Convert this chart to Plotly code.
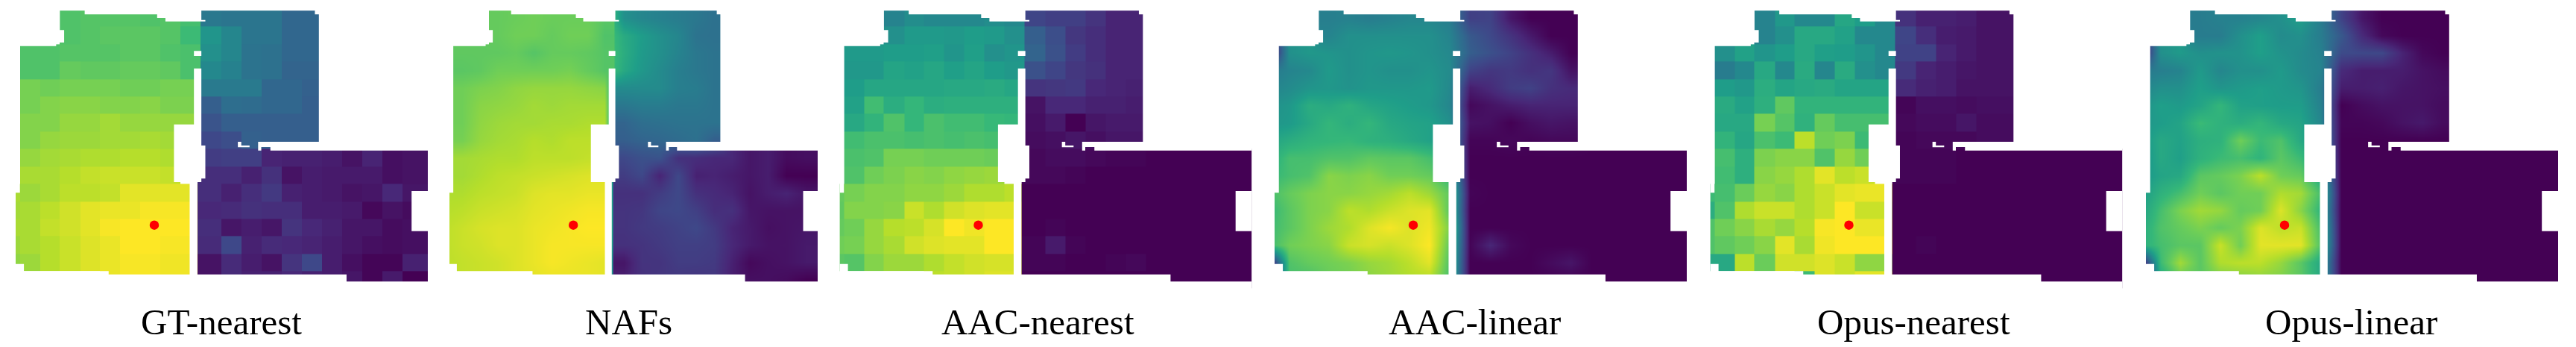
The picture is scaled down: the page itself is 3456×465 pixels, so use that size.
import plotly.graph_objects as go

N = None
PANEL_TITLES = ["GT-nearest", "NAFs", "AAC-nearest", "AAC-linear", "Opus-nearest", "Opus-linear"]

# Grid cell edges of the floor map (floor units)
X_EDGES = [0, 70, 140, 210, 281, 351, 421, 492, 562, 633, 704, 775, 846, 916, 988, 1058, 1129, 1200, 1270, 1341, 1411, 1500]
Y_EDGES = [37, 107, 177, 248, 318, 388, 458, 529, 599, 669, 740, 810, 880, 950, 1020, 1090, 1160]
SOURCE = (541, 905)

GT_L = [
 [N,N,N,72,73,73,73,72,73,70],[N,N,N,72,73,74,74,74,73,68],[N,72,72,73,73,73,74,74,72,71],[N,72,72,76,75,75,76,76,75,71],
 [N,79,78,79,79,79,78,78,79,79],[N,79,81,82,82,81,81,82,80,80],[N,81,81,84,84,86,84,84,84,84],[N,81,84,85,85,86,86,87,86,N],
 [N,84,86,87,88,88,89,89,88,N],[N,87,87,89,91,92,92,92,91,N],[87,85,87,90,90,91,96,96,96,96],[86,87,90,93,96,97,97,99,99,99],
 [87,87,91,93,96,99,100,100,100,100],[85,87,89,92,95,97,100,100,99,99],[83,85,89,92,95,97,99,99,98,98],[N,N,N,N,N,97,99,99,98,98]]
GT_R = [
 [40,39,39,39,33,33,N,N,N,N,N],[52,46,39,39,33,33,N,N,N,N,N],[50,46,38,37,33,33,N,N,N,N,N],[47,44,38,37,32,32,N,N,N,N,N],
 [41,41,41,33,33,31,N,N,N,N,N],[30,36,35,33,33,30,N,N,N,N,N],[26,30,30,30,30,30,N,N,N,N,N],[22,24,31,30,30,30,N,N,N,N,N],
 [18,19,19,10,9,9,8,5,10,4,5],[13,13,9,14,5,8,7,7,7,4,5],[13,9,13,17,9,8,7,5,6,11,6],[11,12,14,13,13,8,8,7,2,5,3],
 [13,6,8,6,15,11,9,6,6,3,4],[12,22,9,12,11,10,8,6,4,3,4],[5,12,8,5,15,22,8,4,1,1,9],[5,12,9,9,11,9,8,6,1,7,0]]

NAF_L = [
 [N,N,N,76,77,78,77,77,77,74],[N,N,N,76,78,78,76,78,78,72],[N,75,75,75,76,73,76,76,75,73],[N,74,75,78,78,78,78,79,76,73],
 [N,78,80,81,83,84,84,84,83,82],[N,78,82,83,84,86,85,86,86,86],[N,78,83,85,86,86,87,87,88,88],[N,79,84,86,87,89,88,90,90,90],
 [N,86,87,88,88,90,90,90,91,91],[N,86,88,90,91,92,93,94,95,95],[88,88,90,91,92,95,96,96,97,97],[89,90,92,93,94,96,97,98,99,99],
 [90,92,94,95,95,97,98,99,100,100],[90,92,93,95,95,97,99,99,99,99],[90,91,92,93,95,97,99,98,97,96],[90,91,92,93,95,96,97,97,97,96]]
NAF_R = [
 [50,46,44,42,40,37,N,N,N,N,N],[61,55,50,46,38,37,N,N,N,N,N],[62,54,50,45,40,38,N,N,N,N,N],[60,53,48,43,40,38,N,N,N,N,N],
 [48,48,48,43,42,38,N,N,N,N,N],[40,42,42,40,40,38,N,N,N,N,N],[32,36,37,38,38,38,N,N,N,N,N],[30,32,33,35,37,30,N,N,N,N,N],
 [22,25,26,14,13,11,11,6,8,3,4],[18,22,10,22,9,10,8,6,8,0,0],[14,14,18,22,14,12,10,5,8,10,6],[15,16,21,22,19,13,14,6,5,5,5],
 [15,17,18,20,22,17,10,7,4,5,6],[14,15,17,19,19,18,11,7,5,5,7],[6,15,15,18,18,17,9,2,4,5,7],[9,14,16,16,15,16,8,4,4,3,0]]

AACN_L = [
 [N,N,N,45,49,47,47,47,49,47],[N,N,N,50,54,54,53,55,54,50],[N,54,54,55,55,56,52,56,50,52],[N,53,53,58,57,59,56,58,55,53],
 [N,55,59,59,59,59,60,60,61,59],[N,57,69,62,66,62,63,63,63,63],[N,60,65,72,66,71,69,69,67,66],[N,69,71,71,70,71,70,71,70,N],
 [N,71,72,79,79,78,78,78,77,N],[N,72,78,80,82,81,83,84,85,N],[76,79,81,81,83,83,85,88,88,90],[75,81,81,82,92,88,93,95,96,96],
 [76,78,84,89,90,94,100,98,100,100],[78,79,84,87,93,95,96,96,100,100],[74,73,81,85,85,88,91,93,94,94],[N,N,N,N,N,90,91,93,95,95]]
AACN_R = [
 [21,19,19,15,10,10,N,N,N,N,N],[30,24,16,13,10,10,N,N,N,N,N],[32,25,18,13,10,10,N,N,N,N,N],[25,21,16,14,10,10,N,N,N,N,N],
 [15,16,17,11,10,9,N,N,N,N,N],[5,11,11,9,9,8,N,N,N,N,N],[4,7,0,6,7,7,N,N,N,N,N],[3,4,6,4,6,6,N,N,N,N,N],
 [2,3,3,2,1,1,0,0,0,0,0],[2,2,1,0,0,0,0,0,0,0,0],[0,0,0,0,0,0,0,0,0,0,0],[0,0,0,0,0,0,0,0,0,0,0],
 [0,1,0,0,0,0,0,0,0,0,0],[1,7,1,0,0,0,0,0,0,0,0],[1,1,0,0,1,2,0,0,0,0,0],[0,0,0,0,0,0,0,0,0,0,0]]

AACL_L = [
 [N,N,N,43,44,42,44,46,46,42],[N,N,N,45,50,50,50,50,50,45],[0,50,53,52,50,52,53,52,50,47],[40,45,47,54,50,52,50,50,52,48],
 [45,48,52,53,51,53,53,53,54,47],[50,53,62,60,64,59,57,55,53,46],[52,54,60,66,62,66,60,58,57,50],[58,62,65,66,67,64,63,60,57,50],
 [62,70,70,72,72,75,74,74,70,60],[66,70,72,82,80,82,78,78,76,65],[70,76,80,82,82,84,86,90,85,75],[66,74,80,82,90,88,92,95,96,74],
 [68,74,80,85,88,95,99,95,98,80],[68,78,80,82,92,94,92,95,100,75],[0,72,76,78,80,84,86,90,96,72],[0,70,70,76,78,82,85,88,88,70]]
AACL_R = [
 [19,20,6,0,0,0,N,N,N,N,N],[28,22,15,7,0,0,N,N,N,N,N],[30,25,20,14,8,0,N,N,N,N,N],[20,16,17,14,16,5,N,N,N,N,N],
 [8,12,18,20,14,12,N,N,N,N,N],[2,5,8,10,10,10,N,N,N,N,N],[5,4,0,4,6,5,N,N,N,N,N],[1,1,2,1,2,2,N,N,N,N,N],
 [0,0,0,0,0,0,0,0,0,0,0],[0,0,0,0,0,0,0,0,0,0,0],[1,0,0,0,0,0,0,0,0,0,0],[0,0,0,0,0,0,0,0,0,0,0],
 [0,0,0,0,0,0,0,0,0,0,0],[1,11,2,0,0,0,0,0,0,0,0],[0,0,0,0,3,6,0,0,0,0,0],[0,0,0,0,0,0,0,0,0,0,0]]

OPUSN_L = [
 [N,N,N,45,53,47,47,59,55,47],[N,N,N,45,50,60,60,57,47,47],[N,50,57,52,55,60,56,55,52,47],[N,42,47,60,47,61,46,61,50,47],
 [N,55,53,62,58,60,61,58,58,58],[N,61,57,63,75,65,65,65,65,65],[N,60,60,79,73,64,76,70,70,70],[N,65,59,71,68,90,78,80,68,N],
 [N,70,63,80,82,82,72,84,78,N],[N,69,63,82,84,88,96,90,92,N],[68,70,77,84,82,88,92,96,97,97],[62,72,88,92,92,88,92,100,92,92],
 [72,78,82,87,84,89,99,100,97,97],[72,75,78,82,96,87,98,100,100,100],[60,60,90,77,93,93,95,92,83,83],[N,N,N,N,N,68,95,92,96,96]]
OPUSN_R = [
 [14,9,9,8,5,5,N,N,N,N,N],[21,13,8,7,5,5,N,N,N,N,N],[20,20,10,7,5,5,N,N,N,N,N],[17,10,8,6,5,5,N,N,N,N,N],
 [12,9,8,5,5,5,N,N,N,N,N],[1,4,4,3,4,4,N,N,N,N,N],[2,3,3,6,3,3,N,N,N,N,N],[1,2,2,2,3,3,N,N,N,N,N],
 [1,1,1,0,0,0,0,0,0,0,0],[1,1,1,0,0,0,0,0,0,0,0],[0,0,0,0,0,0,0,0,0,0,0],[0,0,0,0,0,0,0,0,0,0,0],
 [0,0,0,0,0,0,0,0,0,0,0],[0,1,0,0,0,0,0,0,0,0,0],[0,0,0,0,0,0,0,0,0,0,0],[0,0,0,0,0,0,0,0,0,0,0]]

OPUSL_L = [
 [N,N,N,42,44,44,46,50,56,42],[N,N,N,42,42,50,56,48,50,42],[0,50,54,50,51,51,56,51,48,44],[40,43,45,54,46,50,50,54,48,45],
 [45,50,50,56,52,54,56,54,52,42],[50,56,54,58,66,57,56,55,55,44],[52,55,58,68,64,62,66,60,58,46],[52,60,57,63,64,78,68,72,60,50],
 [50,60,56,64,68,70,65,74,68,55],[52,58,60,74,76,80,90,78,76,60],[54,64,70,78,74,78,78,88,86,70],[56,70,80,86,84,76,78,95,82,65],
 [60,72,76,80,76,80,95,90,92,70],[62,70,74,74,92,78,96,96,96,72],[0,68,86,74,88,90,90,84,74,60],[0,60,74,74,78,80,82,80,74,60]]
OPUSL_R = [
 [20,6,0,0,0,0,N,N,N,N,N],[28,12,2,0,0,0,N,N,N,N,N],[23,22,22,10,2,0,N,N,N,N,N],[12,8,8,8,5,3,N,N,N,N,N],
 [8,8,9,6,5,4,N,N,N,N,N],[0,3,5,5,5,3,N,N,N,N,N],[1,1,2,5,7,3,N,N,N,N,N],[0,0,0,0,0,0,N,N,N,N,N],
 [0,0,0,0,0,0,0,0,0,0,0],[0,0,0,0,0,0,0,0,0,0,0],[0,0,0,0,0,0,0,0,0,0,0],[0,0,0,0,0,0,0,0,0,0,0],
 [0,0,0,0,0,0,0,0,0,0,0],[0,0,0,0,0,0,0,0,0,0,0],[0,0,0,0,0,0,0,0,0,0,0],[0,0,0,0,0,0,0,0,0,0,0]]

# Floor plan outline in floor units (what is outside it stays white)
FLOOR = [(210,43),(297,43),(297,58),(551,58),(551,72),(580,72),(580,86),(720,86),(720,80),(706,80),(706,43),
         (1104,43),(1104,58),(1118,58),(1118,570),(905,570),(905,605),(916,605),(916,591),(948,591),(948,605),
         (1500,605),(1500,768),(1443,768),(1443,929),(1500,929),(1500,1132),(1215,1132),(1215,1103),(692,1103),
         (692,732),(706,732),(706,718),(720,718),(720,585),(706,585),(706,275),(680,275),(680,500),(610,500),
         (610,732),(665,732),(665,1103),(381,1103),(381,1090),(84,1090),(84,1061),(55,1061),(55,775),(70,775),
         (70,185),(197,185),(197,171),(225,171),(225,121),(210,121)]
HOLE_A = [(680,205),(706,205),(706,225),(680,225)]
HOLE_B = [(834,570),(846,570),(846,585),(875,585),(875,592),(834,592)]

PANEL_X = [21, 603, 1126.5, 1710, 2294.5, 2879]
PANEL_W = [553, 494, 553, 553, 553, 553]
CAPTION_X = [297, 843, 1392, 1979, 2567, 3154]
W, H = 3456, 465

# (left rooms, right rooms, smooth rendering, split the wall column)
panels = [(GT_L, GT_R, False, True), (NAF_L, NAF_R, True, True), (AACN_L, AACN_R, False, True),
          (AACL_L, AACL_R, True, False), (OPUSN_L, OPUSN_R, False, True), (OPUSL_L, OPUSL_R, True, False)]


def sub(pts):
    return "M" + " L".join(f"{a},{b}" for a, b in pts) + " Z"


mask = " ".join([sub([(0, 0), (1520, 0), (1520, 1395), (0, 1395)]), sub(FLOOR), sub(HOLE_A), sub(HOLE_B)])

fig = go.Figure()
layout = dict(width=W, height=H, margin=dict(l=0, r=0, t=0, b=0), autosize=False,
              paper_bgcolor="white", plot_bgcolor="white", showlegend=False, shapes=[], annotations=[])

for i, (left, right, smooth, split) in enumerate(panels):
    n = "" if i == 0 else str(i + 1)
    if split:
        # the wall between rooms falls inside column 9: split it there
        z = [l + [l[-1] if j <= 3 else r[0]] + r for j, (l, r) in enumerate(zip(left, right))]
        xe = X_EDGES[:10] + [692] + X_EDGES[10:]
    else:
        z = [l + r for l, r in zip(left, right)]
        xe = X_EDGES
    fig.add_trace(go.Heatmap(z=z, x=xe, y=Y_EDGES, zmin=0, zmax=100, colorscale="Viridis", showscale=False,
                             zsmooth="best" if smooth else False, hoverongaps=False,
                             xaxis="x" + n, yaxis="y" + n))
    fig.add_trace(go.Scatter(x=[SOURCE[0]], y=[SOURCE[1]], mode="markers",
                             marker=dict(color="#ff0000", size=12.5), xaxis="x" + n, yaxis="y" + n))
    layout["xaxis" + n] = dict(domain=[PANEL_X[i] / W, (PANEL_X[i] + PANEL_W[i]) / W], range=[55, 1500],
                               visible=False, anchor="y" + n)
    layout["yaxis" + n] = dict(domain=[0, 1], range=[1395, 0], visible=False, anchor="x" + n)
    layout["shapes"].append(dict(type="path", path=mask, xref="x" + n, yref="y" + n, fillcolor="white",
                                 line=dict(width=0), fillrule="evenodd", layer="above"))
    layout["annotations"].append(dict(text=PANEL_TITLES[i], x=CAPTION_X[i] / W, xref="paper", xanchor="center",
                                      y=(H - 431) / H, yref="paper", yanchor="middle", showarrow=False,
                                      font=dict(family="Liberation Serif", size=49, color="black")))

fig.update_layout(**layout)
fig.write_html("out.html", config=dict(displayModeBar=False),
               post_script="document.body.style.margin='0';document.body.style.overflow='hidden';")
